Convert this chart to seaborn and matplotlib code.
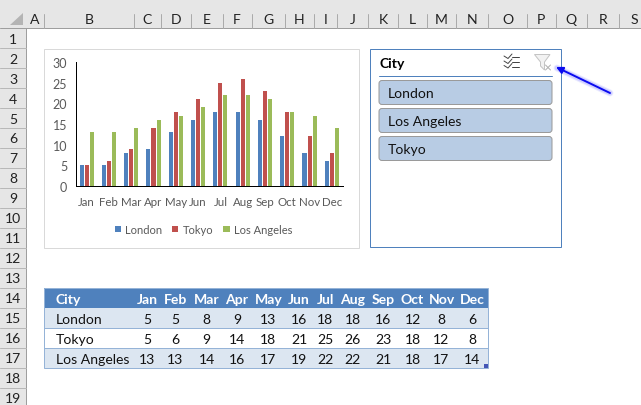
import pandas as pd
import matplotlib
matplotlib.use('Agg')
import matplotlib.pyplot as plt
from matplotlib.patches import FancyBboxPatch, Polygon, Rectangle
import seaborn as sns

months = ['Jan', 'Feb', 'Mar', 'Apr', 'May', 'Jun', 'Jul', 'Aug', 'Sep', 'Oct', 'Nov', 'Dec']
london = [5, 5, 8, 9, 13, 16, 18, 18, 16, 12, 8, 6]
tokyo = [5, 6, 9, 14, 18, 21, 25, 26, 23, 18, 12, 8]
los_angeles = [13, 13, 14, 16, 17, 19, 22, 22, 21, 18, 17, 14]
cities = ['London', 'Tokyo', 'Los Angeles']
slicer_items = ['London', 'Los Angeles', 'Tokyo']
colors = ['#4F81BD', '#C0504D', '#9BBB59']
col_names = list('ABCDEFGHIJKLMNOPQRS')

# sheet layout in pixels
col_edges = [26, 44, 133.5, 160.5, 190.5, 222.5, 251.5, 285, 313.5, 337, 368,
             398, 427, 456, 488, 527, 555.5, 587, 619, 650]
row_h = 20
top_h = 29
thin = 0.72  # one pixel at this dpi
cell_font = 10.1


def row_y(n):
    return top_h + row_h * (n - 1)


def draw_sheet(bg):
    # column and row headers
    bg.add_patch(Rectangle((0, 0), 641, top_h, fc='#E6E6E6', ec='none'))
    bg.add_patch(Rectangle((0, 0), 26, 406, fc='#E6E6E6', ec='none'))
    bg.plot([0, 641], [top_h, top_h], color='#9E9E9E', lw=thin)
    bg.plot([26, 26], [top_h, 406], color='#9E9E9E', lw=thin)
    bg.add_patch(Polygon([[10, 26], [23, 26], [23, 14]], fc='#B4B4B4', ec='none'))
    for i, name in enumerate(col_names):
        left, right = col_edges[i], col_edges[i + 1]
        bg.plot([right, right], [15, top_h], color='#ABABAB', lw=thin)
        bg.text((left + right) / 2, 20, name, ha='center', va='center', fontsize=cell_font, color='#222222')
    for n in range(1, 20):
        bg.plot([0, 26], [row_y(n + 1), row_y(n + 1)], color='#B8B8B8', lw=thin)
        bg.text(13, row_y(n) + 10.5, str(n), ha='center', va='center', fontsize=cell_font, color='#222222')


def draw_table(bg):
    data = [london, tokyo, los_angeles]
    x0, x1 = col_edges[1], col_edges[14]
    bg.add_patch(Rectangle((x0, row_y(14)), x1 - x0, row_h, fc='#4F81BD', ec='none'))
    bg.add_patch(Rectangle((x0, row_y(15)), x1 - x0, row_h, fc='#DCE6F1', ec='none'))
    bg.add_patch(Rectangle((x0, row_y(17)), x1 - x0, row_h, fc='#DCE6F1', ec='none'))
    for n in [16, 17]:
        bg.plot([x0, x1], [row_y(n), row_y(n)], color='#95B3D7', lw=thin)
    bg.add_patch(Rectangle((x0, row_y(14)), x1 - x0, row_h * 4, fc='none', ec='#95B3D7', lw=thin))
    bg.text(x0 + 12, row_y(14) + 11.5, 'City', color='white', fontweight='bold', ha='left', va='center', fontsize=cell_font)
    for j, m in enumerate(months):
        cx = (col_edges[j + 2] + col_edges[j + 3]) / 2
        bg.text(cx, row_y(14) + 11.5, m, color='white', fontweight='bold', ha='center', va='center', fontsize=cell_font)
        for r, vals in enumerate(data):
            bg.text(cx, row_y(15 + r) + 11.5, str(vals[j]), color='#111111', ha='center', va='center', fontsize=cell_font)
    for r, city in enumerate(cities):
        bg.text(x0 + 12, row_y(15 + r) + 11.5, city, color='#111111', ha='left', va='center', fontsize=cell_font)
    bg.add_patch(Rectangle((x1 - 4.5, row_y(18) - 4.5), 4, 4, fc='#4455B5', ec='none'))


def draw_slicer(bg):
    bg.add_patch(Rectangle((370, 49.5), 191, 198.5, fc='white', ec='#4F81BD', lw=thin))
    bg.text(379, 64, 'City', fontweight='bold', ha='left', va='center', fontsize=cell_font, color='black')
    bg.plot([379, 552], [76.5, 76.5], color='#4F81BD', lw=thin)
    for i, item in enumerate(slicer_items):
        top = 81.5 + 28 * i
        bg.add_patch(FancyBboxPatch((380, top + 1), 171, 22, boxstyle='round,pad=1,rounding_size=3',
                                    fc='#B8CCE4', ec='#9A9A9A', lw=thin))
        bg.text(388, top + 12.5, item, ha='left', va='center', fontsize=cell_font, color='#111111')

    # multi select icon
    for y in [58, 63, 67.5]:
        bg.plot([504, 508, 512], [y - 1, y + 1.5, y - 3], color='#444444', lw=0.7)
        bg.plot([512, 519], [y, y], color='#444444', lw=thin)
    # clear filter icon
    bg.add_patch(Polygon([[534.5, 55.5], [550, 55.5], [544.5, 63], [544.5, 71], [540.5, 67], [540.5, 63]],
                         fc='#F2F2F2', ec='#C4C4C4', lw=thin))
    bg.plot([545.5, 550.5], [66, 71], color='#B0B0B0', lw=thin)
    bg.plot([545.5, 550.5], [71, 66], color='#B0B0B0', lw=thin)

    # arrow pointing at the icon, with a soft glow
    for lw, alpha in [(5, 0.08), (3.5, 0.12)]:
        bg.plot([557, 610], [69, 94], color='#0000FF', lw=lw, alpha=alpha, solid_capstyle='round')
    bg.annotate('', xy=(556, 68), xytext=(610, 94),
                arrowprops=dict(arrowstyle='-|>', color='#0A0AF0', lw=1.4, shrinkA=0, shrinkB=0, mutation_scale=10))


def draw_chart(fig):
    df = pd.DataFrame({
        'Month': months * 3,
        'City': [c for c in cities for _ in months],
        'Value': london + tokyo + los_angeles,
    })
    ax = fig.add_axes([75.5 / 641, 1 - 187 / 406, (343 - 75.5) / 641, (187 - 63) / 406])
    ax.patch.set_alpha(0)
    sns.barplot(data=df, x='Month', y='Value', hue='City', hue_order=cities, palette=colors,
                saturation=1, width=0.68, gap=0.2, linewidth=0, ax=ax)
    ax.set_xlim(-0.5, 11.5)
    ax.set_ylim(0, 30)
    ax.set_yticks(range(0, 31, 5))
    ax.set_xlabel('')
    ax.set_ylabel('')
    ax.set_xticks([i - 0.5 for i in range(13)], minor=True)
    ax.tick_params(axis='x', which='major', length=0, pad=7, labelsize=8.3, labelcolor='#595959')
    ax.tick_params(axis='x', which='minor', length=3, width=thin, color='black')
    ax.tick_params(axis='y', length=3, width=thin, color='black', labelsize=9, labelcolor='#595959', pad=3)
    sns.despine(ax=ax)
    for side in ['left', 'bottom']:
        ax.spines[side].set_color('black')
        ax.spines[side].set_linewidth(thin)

    handles, labels = ax.get_legend_handles_labels()
    ax.get_legend().remove()
    fig.legend(handles, labels, loc='center', bbox_to_anchor=(203.5 / 641, 1 - 230.5 / 406), ncol=3, frameon=False,
               fontsize=8, labelcolor='#595959', handlelength=0.55, handleheight=0.55,
               handletextpad=0.4, columnspacing=0.9)


def main():
    sns.set_theme(style='white')
    plt.rcParams['font.family'] = ['Lato', 'DejaVu Sans']

    fig = plt.figure(figsize=(6.41, 4.06), dpi=100)
    bg = fig.add_axes([0, 0, 1, 1])
    bg.set_xlim(0, 641)
    bg.set_ylim(406, 0)
    bg.axis('off')

    draw_sheet(bg)
    # chart frame
    bg.add_patch(Rectangle((44, 49.5), 314.5, 199.5, fc='white', ec='#D9D9D9', lw=thin))
    draw_table(bg)
    draw_slicer(bg)
    draw_chart(fig)

    fig.savefig('out.png', dpi=100)


if __name__ == "__main__":
    main()
